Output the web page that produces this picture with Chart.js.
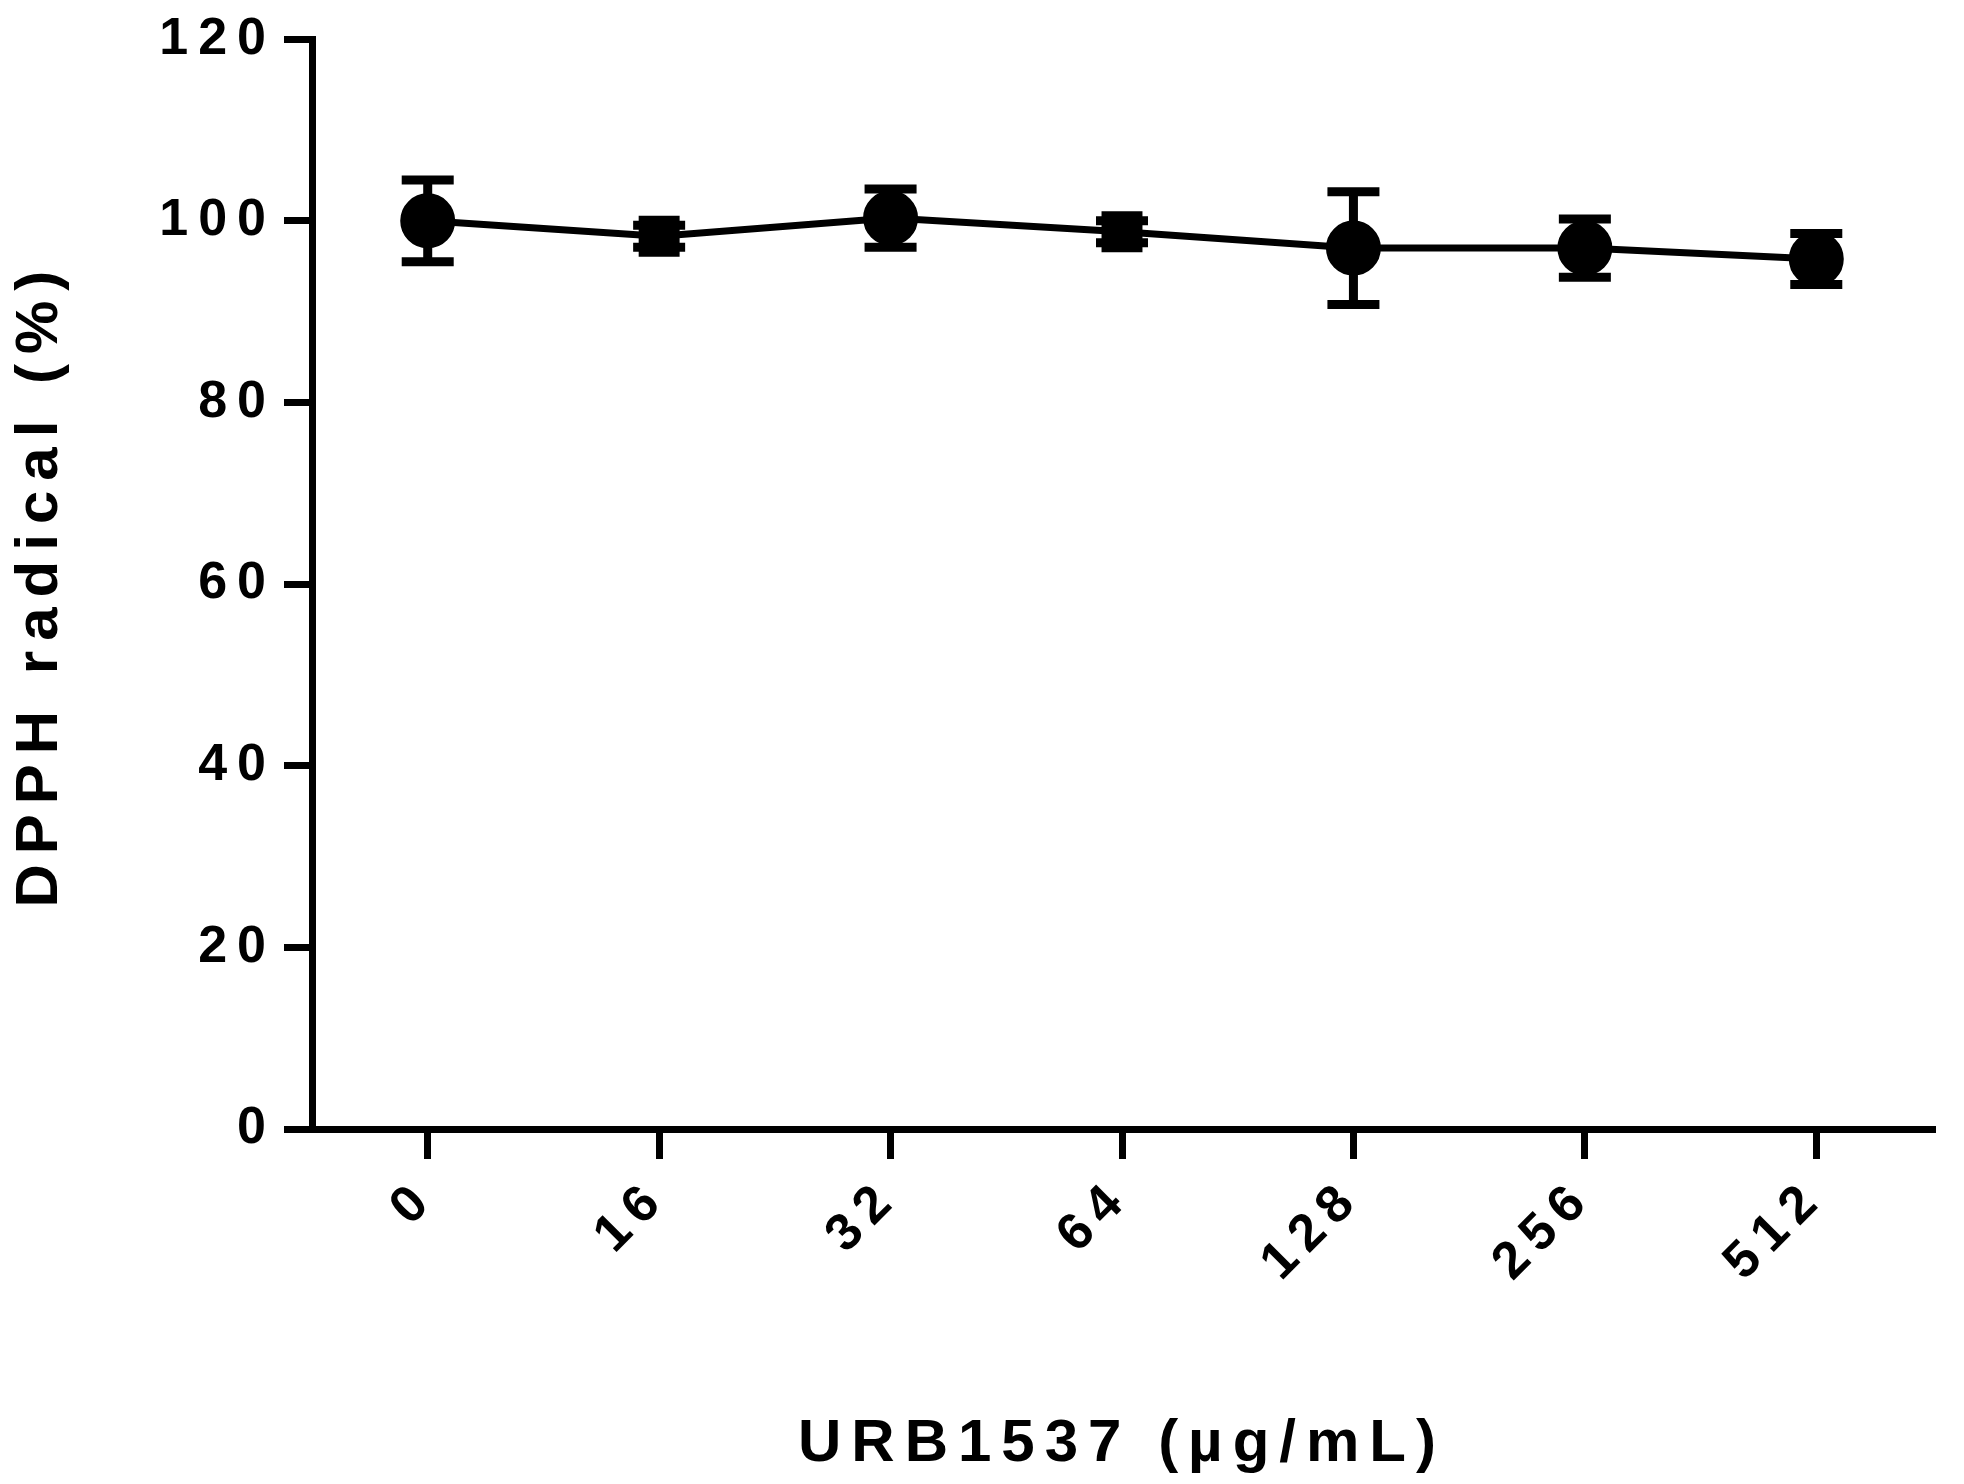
<!DOCTYPE html><html><head><style>html,body{margin:0;background:#fff}</style>
<script src="https://cdn.jsdelivr.net/npm/chart.js@4"></script></head><body>
<div style="width:1964px;height:1484px"><canvas id="c"></canvas></div>
<script>
const categories=['0','16','32','64','128','256','512'];
const values=[100,98.3,100.3,98.8,97,97,95.8];
const errors=[4.5,1.2,3.2,1.2,6.2,3.2,2.8];
const markers=['circle','rect','circle','rect','circle','circle','circle'];
const yTicks=[0,20,40,60,80,100,120];
const errPlugin={id:'err',beforeDraw(ch){ch.ctx.letterSpacing='10px';},
afterDatasetsDraw(ch){const ctx=ch.ctx,x=ch.scales.x,y=ch.scales.y;ctx.save();ctx.strokeStyle='#000';ctx.lineWidth=9;
values.forEach((v,i)=>{const px=x.getPixelForValue(i),t=y.getPixelForValue(v+errors[i]),b=y.getPixelForValue(v-errors[i]);
ctx.beginPath();ctx.moveTo(px,t);ctx.lineTo(px,b);ctx.moveTo(px-26,t);ctx.lineTo(px+26,t);ctx.moveTo(px-26,b);ctx.lineTo(px+26,b);ctx.stroke();});ctx.restore();}};
const font={family:'Liberation Sans, Arial',weight:'bold',size:52};
const tfont={family:'Liberation Sans, Arial',weight:'bold',size:60};
new Chart(document.getElementById('c'),{type:'line',data:{labels:categories,datasets:[{data:values,borderColor:'#000',borderWidth:7,
pointStyle:markers,pointRadius:24,pointBackgroundColor:'#000',pointBorderColor:'#000',tension:0}]},
options:{responsive:true,maintainAspectRatio:false,animation:false,layout:{padding:{top:30,right:32}},
plugins:{legend:{display:false},tooltip:{enabled:false}},
scales:{x:{offset:true,grid:{drawOnChartArea:false,color:'#000',lineWidth:7,tickLength:30,offset:false},border:{color:'#000',width:7},
ticks:{color:'#000',font,maxRotation:45,minRotation:45,padding:8},
title:{display:true,text:'URB1537 (µg/mL)',color:'#000',font:tfont,padding:{top:40}},
afterFit(s){s.height=355;}},
y:{min:0,max:120,afterBuildTicks(s){s.ticks=yTicks.map(v=>({value:v}));},grid:{drawOnChartArea:false,color:'#000',lineWidth:7,tickLength:28},border:{color:'#000',width:7},
ticks:{color:'#000',font,padding:8},
title:{display:true,text:'DPPH radical (%)',color:'#000',font:tfont,padding:{bottom:30}},
afterFit(s){s.width=312;}}}},plugins:[errPlugin]});
</script></body></html>
